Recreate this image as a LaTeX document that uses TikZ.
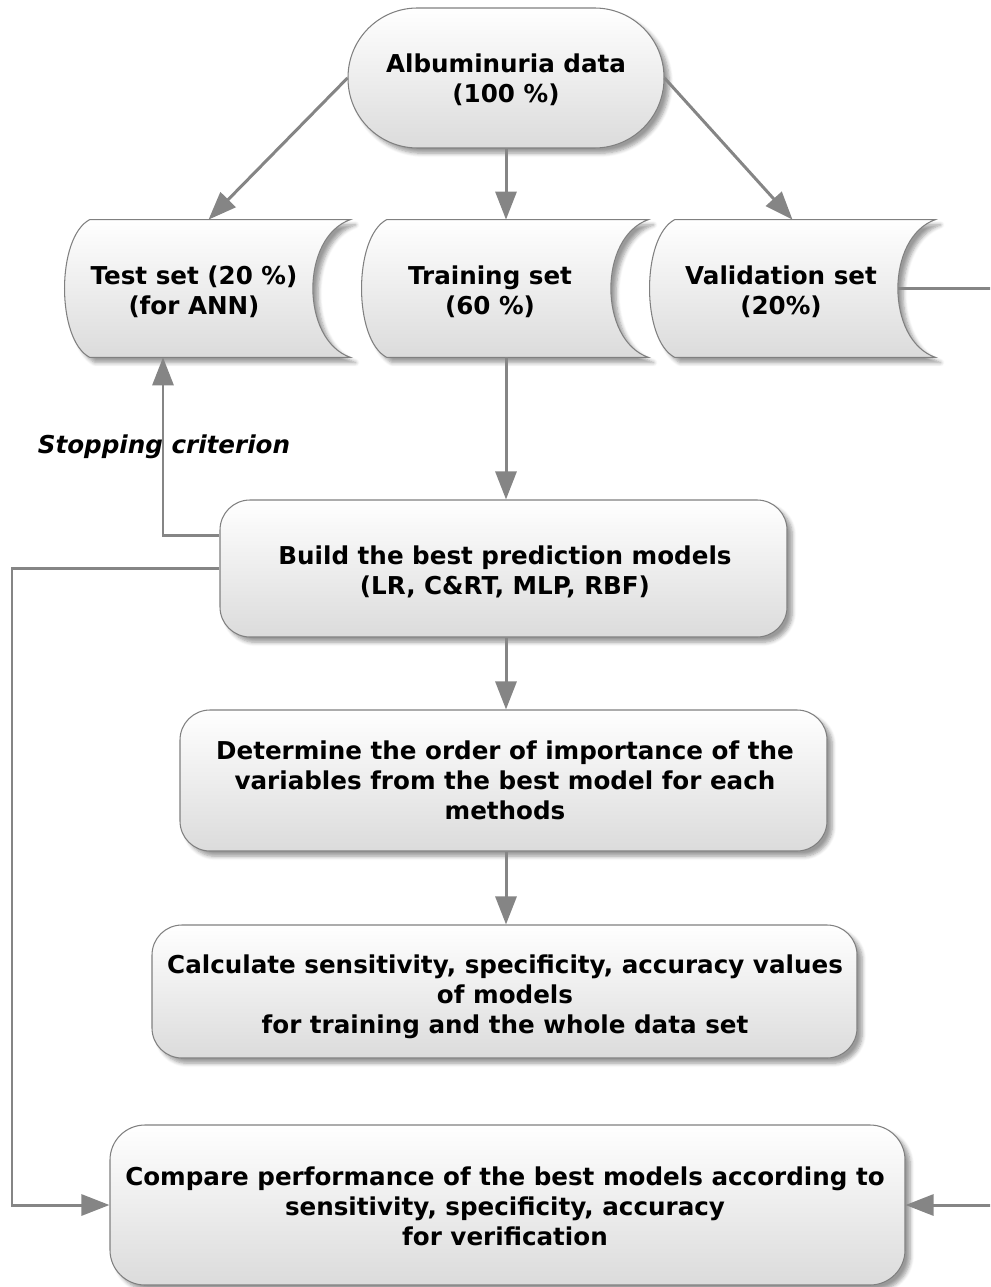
\documentclass[tikz,border=0pt]{standalone}
\usepackage{fontspec}
\setmainfont{DejaVu Sans}[ItalicFont={DejaVu Sans Oblique},BoldFont={DejaVu Sans Bold},BoldItalicFont={DejaVu Sans Bold Oblique}]
\usetikzlibrary{arrows.meta,shadows.blur,fit,calc}
\newcommand\storeshape[1]{%
 \path[sh] let \p1=(#1.north west), \p2=(#1.south east) in
  (\x1+0.5cm,\y1) -- (\x2,\y1)
  .. controls (\x2-1cm,\y1-0.35cm) and (\x2-1cm,\y2+0.35cm) .. (\x2,\y2)
  -- (\x1+0.5cm,\y2)
  .. controls (\x1-0.17cm,\y2+0.35cm) and (\x1-0.17cm,\y1-0.35cm) .. (\x1+0.5cm,\y1) -- cycle;}
\begin{document}
\begin{tikzpicture}[x=0.02cm,y=-0.02cm,
  font=\fontsize{14}{17}\selectfont\bfseries,
  sh/.style={top color=white,bottom color=black!14,draw=black!50,line width=0.6pt,
    blur shadow={shadow xshift=3pt,shadow yshift=-3pt,shadow opacity=40,shadow blur steps=6}},
  box/.style={sh,rounded corners=0.6cm,inner sep=0},
  ph/.style={inner sep=0,draw=none},
  txt/.style={align=center,inner sep=0},
  conn/.style={draw=black!48,line width=1.7pt,-{Triangle[length=16pt,width=12pt]},fill=none},
]
\clip (0,0) rectangle (990,1287);

% terminal
\node[box,rounded corners=1.39cm,fit={(348,8)(664,148)}] (alb) {};
\node[txt] (albtxt) at (506,80) {Albuminuria data\\(100 \%)};

% data storage shapes
\node[ph,fit={(65,220)(350,357)}] (test) {};
\node[ph,fit={(362,220)(648,357)}] (train) {};
\node[ph,fit={(650,220)(935,357)}] (val) {};
\storeshape{test}
\storeshape{train}
\storeshape{val}
\node[txt] (testtxt) at (194,292) {Test set (20 \%)\\(for ANN)};
\node[txt] (traintxt) at (490,292) {Training set\\(60 \%)};
\node[txt] (valtxt) at (781,292) {Validation set\\(20\%)};

% process boxes
\node[box,fit={(220,500)(787,637)}] (build) {};
\node[txt] (buildtxt) at (505,572) {Build the best prediction models\\(LR, C\&RT, MLP, RBF)};
\node[box,fit={(180,710)(827,851)}] (det) {};
\node[txt] (dettxt) at (505,780) {Determine the order of importance of the\\variables from the best model for each\\methods};
\node[box,fit={(152,925)(857,1058)}] (calc) {};
\node[txt] (calctxt) at (505,997) {Calculate sensitivity, specificity, accuracy values\\of models\\for training and the whole data set};
\node[box,rounded corners=0.7cm,fit={(110,1125)(905,1285)}] (comp) {};
\node[txt] (comptxt) at (505,1206) {Compare performance of the best models according to\\sensitivity, specificity, accuracy\\for verification};

% helper coordinates
\coordinate (stopx) at (163,0);
\coordinate (lft) at (12,0);
\coordinate (far) at (1030,0);

% connectors
\draw[conn] (alb.west) -- ([xshift=0.02cm]test.north);
\draw[conn] (alb.south) -- (alb.south |- train.north);
\draw[conn] (alb.east) -- (val.north);
\draw[conn] (alb.south |- train.south) -- (alb.south |- build.north);
\draw[conn] ($(build.west)+(0,-33)$) -| (stopx |- test.south);
\draw[conn] (build.west) -- (lft |- build.west) -- (lft |- comp.west) -- (comp.west);
\draw[conn] (alb.south |- build.south) -- (alb.south |- det.north);
\draw[conn] (alb.south |- det.south) -- (alb.south |- calc.north);
\draw[conn] ([xshift=-0.75cm]val.east) -| (far |- comp.east) -- (comp.east);

\node[font=\fontsize{14}{17}\selectfont\bfseries\itshape,inner sep=0] (stoplbl) at (164,447) {Stopping criterion};
\end{tikzpicture}
\end{document}
